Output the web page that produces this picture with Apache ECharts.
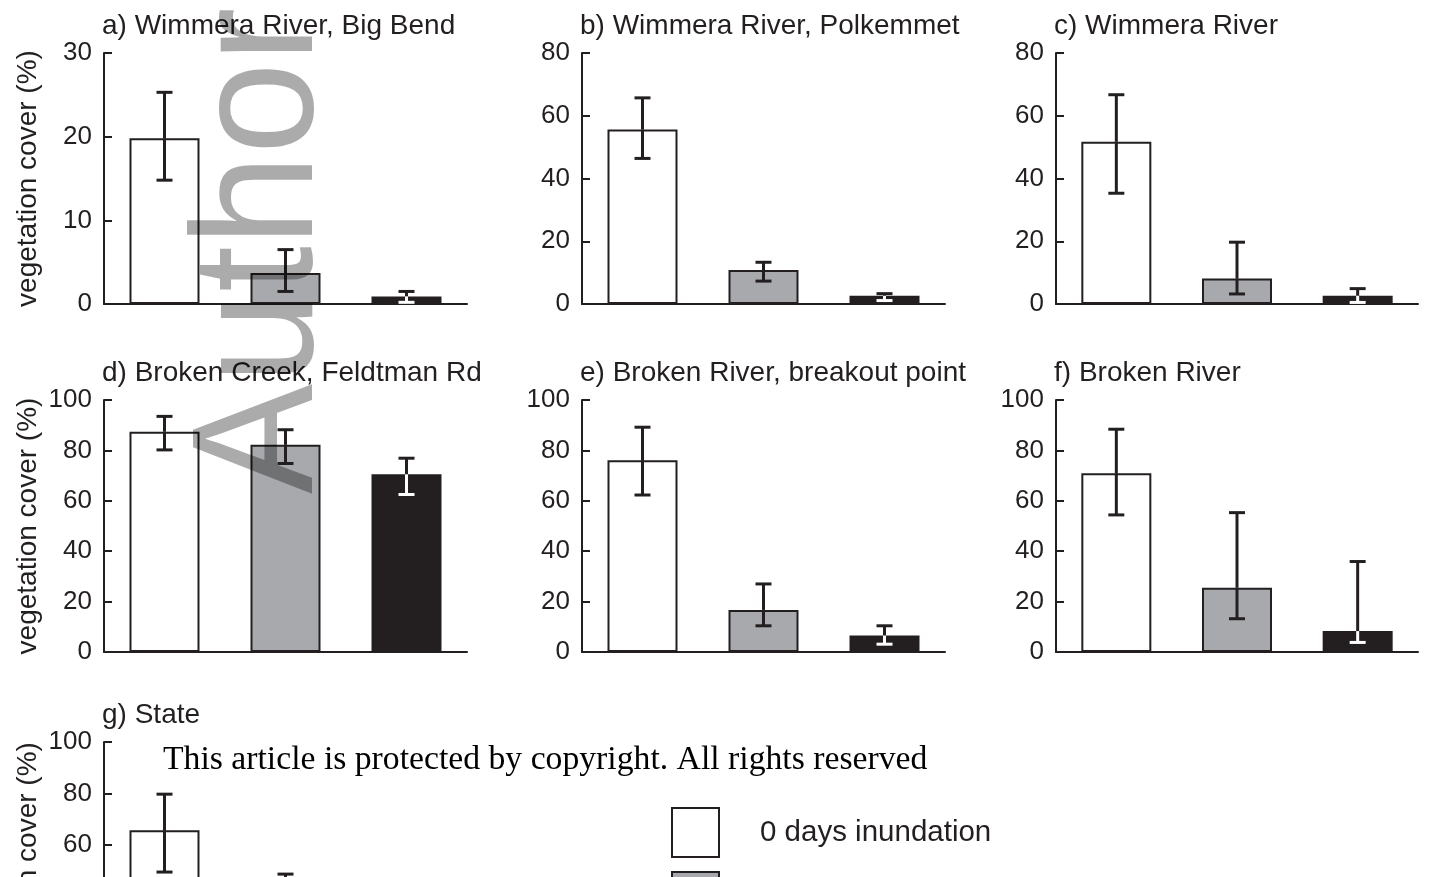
<!DOCTYPE html>
<html>
<head>
<meta charset="utf-8">
<script src="https://cdn.jsdelivr.net/npm/echarts@6/dist/echarts.min.js"></script>
<style>
  html, body {margin: 0; padding: 0; background: #fff;}
  #main {width: 1429px; height: 877px;}
</style>
</head>
<body>
<div id="main"></div>
<script>
var levels = ['0 days inundation', '1-10 days inundation', '>10 days inundation'];
var titles = ['a) Wimmera River, Big Bend', 'b) Wimmera River, Polkemmet', 'c) Wimmera River',
	'd) Broken Creek, Feldtman Rd', 'e) Broken River, breakout point', 'f) Broken River', 'g) State'];
var yMax = [30, 80, 80, 100, 100, 100, 100];
var yStep = [10, 20, 20, 20, 20, 20, 20];
// mean cover per panel: [0 days, mid, long]
var means = [
	[19.8, 3.7, 0.9],
	[55.6, 10.8, 2.6],
	[51.7, 8.1, 2.6],
	[87.4, 82.2, 70.5],
	[76.1, 16.7, 6.5],
	[70.9, 25.5, 8.3],
	[65.7, 32, 12]
];
var errLow = [
	[14.8, 1.5, 0.2],
	[46.4, 7.3, 1.1],
	[35.3, 3.2, 0.5],
	[80.2, 74.8, 62.5],
	[62.3, 10.4, 3.1],
	[54.4, 13.2, 3.8],
	[49.4, 18, 6]
];
var errHigh = [
	[25.3, 6.5, 1.5],
	[65.7, 13.3, 3.3],
	[66.7, 19.7, 4.9],
	[93.5, 88.2, 76.9],
	[89.2, 27, 10.4],
	[88.4, 55.3, 35.9],
	[79.7, 48.6, 20]
];

var ink = '#231f20';
var fills = ['#ffffff', '#a7a9ac', ink];
var sans = '"Liberation Sans", Arial, sans-serif';

// panel boxes in px
var colLeft = [104, 582, 1056];
var colWidth = [363, 363, 362];
var rowTop = [53, 400, 742];
var rowHeight = [251, 252, 257];

var chart = echarts.init(document.getElementById('main'));

var grid = [], xAxis = [], yAxis = [], series = [], title = [];
titles.forEach(function (t, p) {
	var r = Math.floor(p / 3), c = p % 3;
	grid.push({left: colLeft[c], top: rowTop[r], width: colWidth[c], height: rowHeight[r], outerBoundsMode: 'none'});
	title.push({
		text: t, left: colLeft[c] - 2, top: rowTop[r] - 41, padding: 0,
		textStyle: {fontFamily: sans, fontSize: 28, fontWeight: 'normal', color: ink}
	});
	xAxis.push({
		type: 'category', gridIndex: p, data: ['0', '1', '2'],
		axisLine: {lineStyle: {color: ink, width: 2}},
		axisTick: {show: false}, axisLabel: {show: false}
	});
	yAxis.push({
		type: 'value', gridIndex: p, min: 0, max: yMax[p], interval: yStep[p],
		name: c === 0 ? 'vegetation cover (%)' : '',
		nameLocation: 'middle', nameGap: 62, nameRotate: 90,
		nameTextStyle: {fontFamily: sans, fontSize: 28, color: ink},
		axisLine: {show: true, lineStyle: {color: ink, width: 2}},
		axisTick: {show: true, inside: true, length: 8, lineStyle: {color: ink, width: 2}},
		axisLabel: {fontFamily: sans, fontSize: 26, color: ink, margin: 12},
		splitLine: {show: false}
	});
	levels.forEach(function (name, k) {
		var d = ['-', '-', '-'];
		d[k] = means[p][k];
		series.push({
			type: 'bar', name: name, xAxisIndex: p, yAxisIndex: p,
			data: d, barWidth: 70, barGap: '-100%',
			itemStyle: {color: fills[k], borderColor: ink, borderWidth: 2},
			emphasis: {disabled: true}
		});
	});
	series.push({
		type: 'custom', xAxisIndex: p, yAxisIndex: p, z: 5,
		data: [0, 1, 2].map(function (k) { return [k, errLow[p][k], errHigh[p][k], means[p][k]]; }),
		encode: {x: 0, y: [1, 2]},
		renderItem: function (params, api) {
			var k = api.value(0);
			var top = api.coord([k, api.value(2)]);
			var bot = api.coord([k, api.value(1)]);
			var mid = api.coord([k, api.value(3)]);
			var x = top[0], cap = 8;
			var lower = k === 2 ? '#ffffff' : ink;
			var st = function (col) { return {stroke: col, lineWidth: 3}; };
			return {type: 'group', children: [
				{type: 'line', shape: {x1: x, y1: top[1], x2: x, y2: mid[1]}, style: st(ink)},
				{type: 'line', shape: {x1: x - cap, y1: top[1], x2: x + cap, y2: top[1]}, style: st(ink)},
				{type: 'line', shape: {x1: x, y1: mid[1], x2: x, y2: bot[1]}, style: st(lower)},
				{type: 'line', shape: {x1: x - cap, y1: bot[1], x2: x + cap, y2: bot[1]}, style: st(lower)}
			]};
		}
	});
});

chart.setOption({
	animation: false,
	title: title,
	grid: grid,
	xAxis: xAxis,
	yAxis: yAxis,
	series: series,
	legend: {
		data: levels, orient: 'vertical', left: 671, top: 807, height: 400, padding: 0,
		itemWidth: 47, itemHeight: 49, itemGap: 13, icon: 'rect',
		textStyle: {fontFamily: sans, fontSize: 29.5, color: ink, padding: [0, 0, 0, 36]}
	},
	graphic: [
		{
			type: 'text', x: 163, y: 760, z: 50,
			style: {
				text: 'This article is protected by copyright. All rights reserved',
				font: '33.7px "Liberation Serif", serif', fill: '#000',
				textAlign: 'left', textVerticalAlign: 'middle'
			}
		},
		{
			type: 'text', x: 351, y: 494, rotation: Math.PI / 2, scaleX: 0.96, z: 100,
			style: {
				text: 'Author', font: '172px "Liberation Sans", Arial, sans-serif',
				fill: 'rgba(0,0,0,0.33)', textAlign: 'left', textVerticalAlign: 'bottom'
			}
		}
	]
});
</script>
</body>
</html>
